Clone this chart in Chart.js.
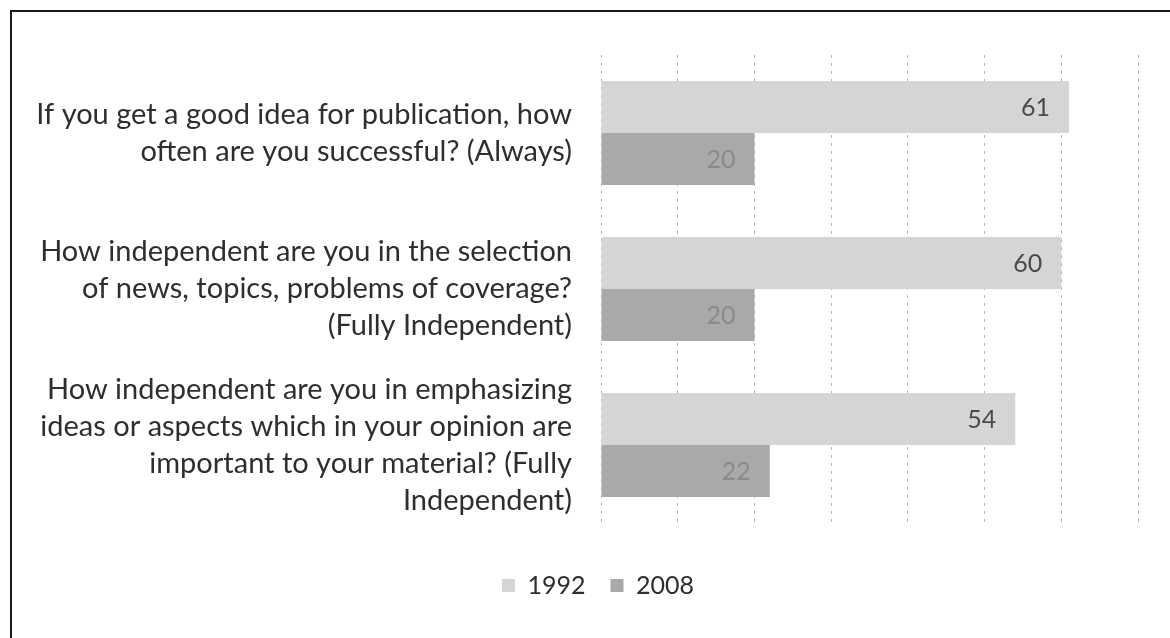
<!DOCTYPE html>
<html>
<head>
<meta charset="utf-8">
<script src="https://cdn.jsdelivr.net/npm/chart.js@4.4.1/dist/chart.umd.min.js"></script>
<style>
  html, body { margin: 0; padding: 0; background: #fff; }
  #wrap { width: 1170px; height: 638px; }
</style>
</head>
<body>
<div id="wrap"><canvas id="chart" width="1170" height="638"></canvas></div>
<script>
// --- 資料 ---
const questions = [
    ['If you get a good idea for publication, how', 'often are you successful? (Always)'],
    ['How independent are you in the selection', 'of news, topics, problems of coverage?', '(Fully Independent)'],
    ['How independent are you in emphasizing', 'ideas or aspects which in your opinion are', 'important to your material? (Fully', 'Independent)']
];
const years = ['1992', '2008'];
const values1992 = [61, 60, 54];
const values2008 = [20, 20, 22];
const xTicksMax = 70;

const COLORS = {
    Y1992: '#d5d5d5',
    Y2008: '#a9a9a9',
    LABEL_1992: '#4a4a4a',
    LABEL_2008: '#8a8a8a',
    TEXT: '#2e2e2e',
    GRID: '#b4b4b4'
};

const FONT = 'Lato, "Open Sans", sans-serif';

// 白底 + 外框
const framePlugin = {
    id: 'frame',
    beforeDraw(chart) {
        const ctx = chart.ctx;
        ctx.save();
        ctx.fillStyle = '#fff';
        ctx.fillRect(0, 0, chart.width, chart.height);
        ctx.strokeStyle = '#1a1a1a';
        ctx.lineWidth = 2;
        ctx.beginPath();
        ctx.moveTo(11, 640);
        ctx.lineTo(11, 11);
        ctx.lineTo(1172, 11);
        ctx.stroke();
        ctx.restore();
    }
};

// 長條內側數值
const valueLabelPlugin = {
    id: 'valueLabels',
    afterDatasetsDraw(chart) {
        const ctx = chart.ctx;
        ctx.save();
        ctx.font = '25px ' + FONT;
        ctx.textAlign = 'right';
        ctx.textBaseline = 'middle';
        chart.data.datasets.forEach((ds, i) => {
            const meta = chart.getDatasetMeta(i);
            ctx.fillStyle = i === 0 ? COLORS.LABEL_1992 : COLORS.LABEL_2008;
            meta.data.forEach((bar, j) => {
                ctx.fillText(String(ds.data[j]), bar.x - 19, bar.y + 1);
            });
        });
        ctx.restore();
    }
};

new Chart(document.getElementById('chart'), {
    type: 'bar',
    data: {
        labels: questions,
        datasets: [
            { label: years[0], data: values1992, backgroundColor: COLORS.Y1992 },
            { label: years[1], data: values2008, backgroundColor: COLORS.Y2008 }
        ]
    },
    options: {
        indexAxis: 'y',
        responsive: false,
        animation: false,
        devicePixelRatio: 1,
        categoryPercentage: 0.667,
        barPercentage: 1.0,
        // 左側留 26，右側留白交給 x 軸 padding，讓圖例置中於 598 附近
        layout: { padding: { left: 26, right: 0, top: 55, bottom: 30 } },
        scales: {
            x: {
                min: 0,
                max: xTicksMax,
                ticks: { display: false, stepSize: 10 },
                border: { display: false, dash: [3, 5] },
                grid: { color: COLORS.GRID, lineWidth: 1, drawTicks: false },
                afterFit(scale) {
                    scale.height = 25;
                    scale.paddingLeft = 0;
                    scale.paddingRight = 32;
                }
            },
            y: {
                border: { display: false },
                grid: { display: false, drawTicks: false },
                ticks: {
                    color: COLORS.TEXT,
                    padding: 29,
                    autoSkip: false,
                    font: { family: FONT, size: 29, lineHeight: '37px' }
                },
                afterFit(scale) {
                    scale.width = 575;
                    scale.paddingTop = 0;
                    scale.paddingBottom = 0;
                }
            }
        },
        plugins: {
            legend: {
                position: 'bottom',
                labels: {
                    color: COLORS.TEXT,
                    boxWidth: 13,
                    boxHeight: 13,
                    padding: 25,
                    font: { family: FONT, size: 25 }
                }
            },
            tooltip: { enabled: false }
        }
    },
    plugins: [framePlugin, valueLabelPlugin]
});
</script>
</body>
</html>
